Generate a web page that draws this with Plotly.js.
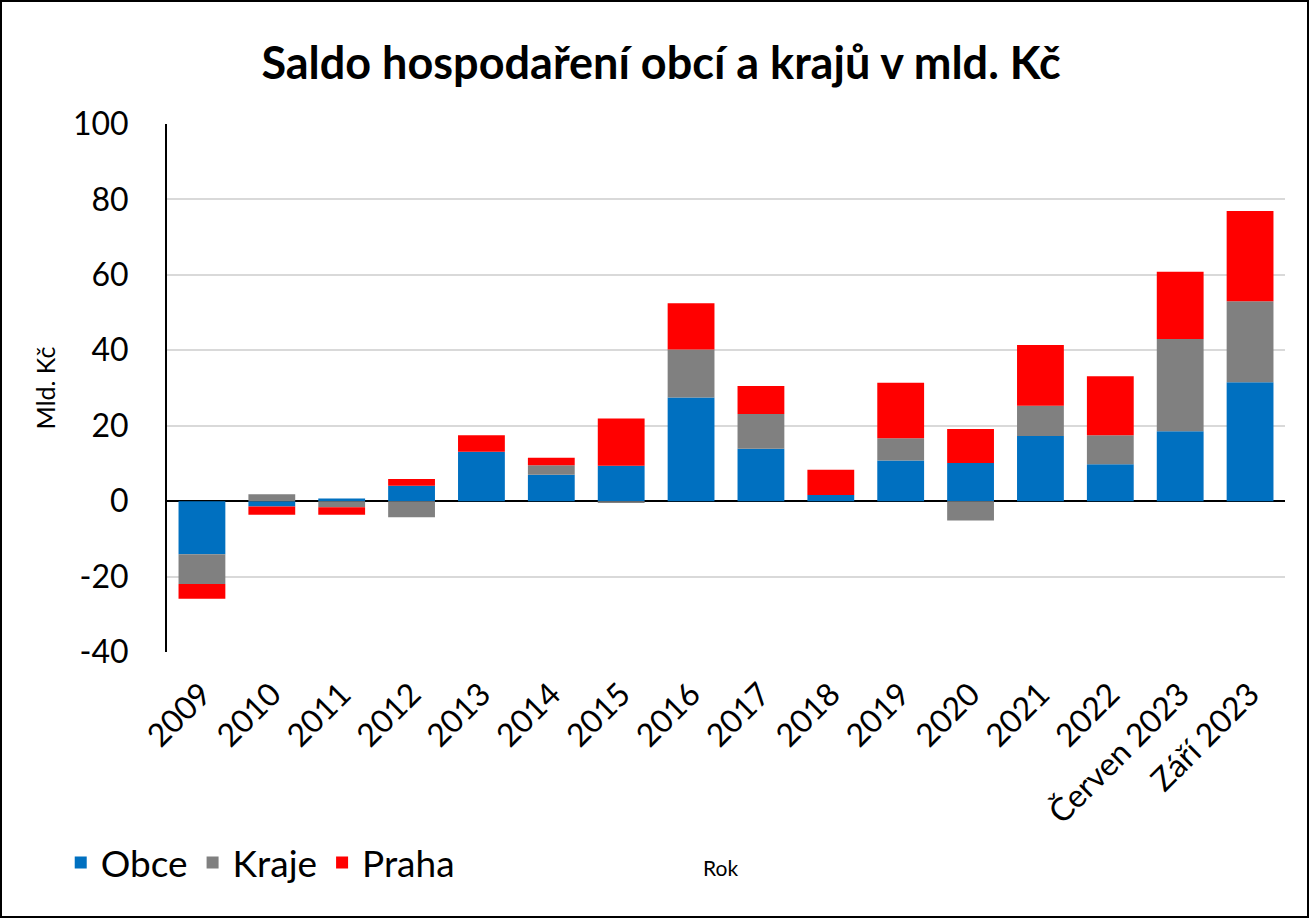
<!DOCTYPE html>
<html>
<head>
<meta charset="utf-8">
<script src="https://cdn.plot.ly/plotly-3.0.1.min.js"></script>
<style>
html,body{margin:0;padding:0;background:#fff;}
#wrap{position:absolute;left:0;top:0;width:1305px;height:914px;border:2px solid #000;}
#chart{width:1305px;height:914px;}
</style>
</head>
<body>
<div id="wrap"><div id="chart"></div></div>
<script>
const categories = ["2009","2010","2011","2012","2013","2014","2015","2016","2017","2018","2019","2020","2021","2022","Červen 2023","Září 2023"];
const obce  = [-14.1, -1.4, 0.7, 4.1, 13.1, 7.0, 9.4, 27.5, 13.9, 1.6, 10.8, 10.1, 17.3, 9.8, 18.5, 31.5];
const kraje = [-7.9, 1.8, -1.6, -4.3, 0.0, 2.5, -0.5, 12.7, 9.2, 0.0, 5.9, -5.1, 8.0, 7.7, 24.5, 21.5];
const praha = [-3.9, -2.2, -2.0, 1.8, 4.4, 2.0, 12.5, 12.3, 7.4, 6.7, 14.7, 9.0, 16.1, 15.6, 17.8, 23.9];
const yTicks = [-40, -20, 0, 20, 40, 60, 80, 100];

const font = "Lato, 'Open Sans', sans-serif";
function bar(name, y, color) {
  return {type: 'bar', name: name, x: categories, y: y, marker: {color: color, line: {width: 0}}};
}
const data = [
  bar('Obce', obce, '#0070C0'),
  bar('Kraje', kraje, '#808080'),
  bar('Praha', praha, '#FF0000')
];
const layout = {
  width: 1305, height: 914,
  margin: {l: 165, r: 22, t: 122, b: 264},
  paper_bgcolor: '#fff', plot_bgcolor: '#fff',
  barmode: 'relative', bargap: 0.33,
  font: {family: font, color: '#000'},
  title: {text: '<b>Saldo hospodaření obcí a krajů v mld. Kč</b>', font: {size: 45, family: font, color: '#000'}, x: 0.505, xanchor: 'center', y: 0.933, yanchor: 'middle'},
  xaxis: {
    type: 'category', tickangle: -45, tickfont: {size: 32}, showgrid: false,
    showline: false, ticks: '', zeroline: false, ticklabelstandoff: 16
  },
  yaxis: {
    range: [-40, 100], tickvals: yTicks, ticktext: yTicks.map(String),
    tickfont: {size: 32}, showgrid: true, gridcolor: '#d9d9d9', gridwidth: 2,
    zeroline: true, zerolinecolor: '#000', zerolinewidth: 2,
    showline: true, linecolor: '#000', linewidth: 2, ticks: '', ticklabelstandoff: 30,
    title: {text: 'Mld. Kč', font: {size: 25}, standoff: 10}
  },
  annotations: [{
    text: 'Rok', xref: 'paper', yref: 'paper', x: 0.495, y: -0.409,
    xanchor: 'center', yanchor: 'middle', showarrow: false, font: {size: 21, color: '#000', family: font}
  }],
  showlegend: true,
  legend: {orientation: 'h', xref: 'container', yref: 'container', x: 0.045, y: 0.058, xanchor: 'left', yanchor: 'middle',
           font: {size: 37}, itemwidth: 30, traceorder: 'normal', bgcolor: 'rgba(0,0,0,0)'}
};
Plotly.newPlot('chart', data, layout, {displayModeBar: false, staticPlot: true});
</script>
</body>
</html>
